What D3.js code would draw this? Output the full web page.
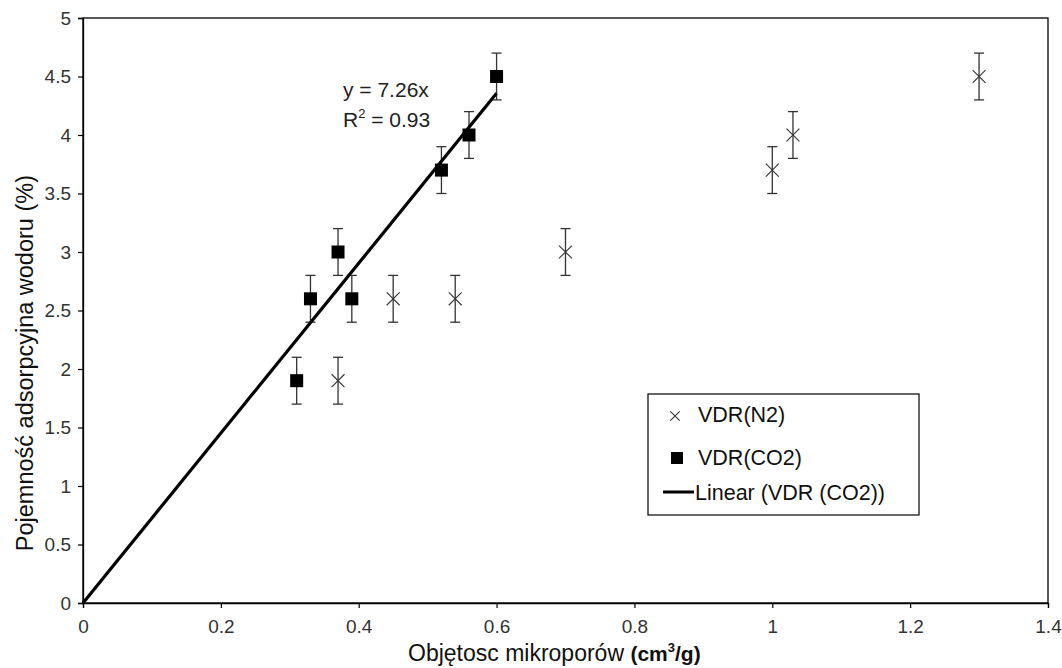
<!DOCTYPE html>
<html>
<head>
<meta charset="utf-8">
<script src="https://cdn.jsdelivr.net/npm/d3@7"></script>
<style>
  html, body { margin: 0; padding: 0; background: #fff; }
  svg { display: block; font-family: "Liberation Sans", Arial, sans-serif; }
</style>
</head>
<body>
<svg id="chart" width="1062" height="668"></svg>
<script>
// Micropore volume (cm3/g) vs hydrogen adsorption capacity (%)
const n2X = [0.37, 0.45, 0.54, 0.70, 1.00, 1.03, 1.30];
const n2Y = [1.9, 2.6, 2.6, 3.0, 3.7, 4.0, 4.5];
const co2X = [0.31, 0.33, 0.37, 0.39, 0.52, 0.56, 0.60];
const co2Y = [1.9, 2.6, 3.0, 2.6, 3.7, 4.0, 4.5];
const errorBar = 0.2;
const slope = 7.26;
const trendRange = [0, 0.60];
const xTicks = [0, 0.2, 0.4, 0.6, 0.8, 1, 1.2, 1.4];
const yTicks = [0, 0.5, 1, 1.5, 2, 2.5, 3, 3.5, 4, 4.5, 5];

const svg = d3.select("#chart");
const m = { left: 83, right: 1048, top: 18, bottom: 603 };
const x = d3.scaleLinear().domain([0, 1.4]).range([m.left, m.right]);
const y = d3.scaleLinear().domain([0, 5]).range([m.bottom, m.top]);

// plot frame
svg.append("rect")
  .attr("x", m.left).attr("y", m.top)
  .attr("width", m.right - m.left).attr("height", m.bottom - m.top)
  .attr("fill", "none").attr("stroke", "#000").attr("stroke-width", 1.3);

// axes
const xAxis = svg.append("g").attr("transform", `translate(0,${m.bottom})`)
  .call(d3.axisBottom(x).tickValues(xTicks).tickSize(5).tickPadding(12).tickFormat(d => d3.format("")(d)));
const yAxis = svg.append("g").attr("transform", `translate(${m.left},0)`)
  .call(d3.axisLeft(y).tickValues(yTicks).tickSize(5).tickPadding(7).tickFormat(d => d3.format("")(d)));
[xAxis, yAxis].forEach(g => {
  g.select(".domain").attr("stroke", "#000").attr("stroke-width", 1.3);
  g.selectAll(".tick line").attr("stroke", "#000").attr("stroke-width", 1.2);
  g.selectAll(".tick text").attr("fill", "#333").style("font-size", "19px")
    .style("font-family", "'Liberation Sans', Arial, sans-serif");
});

// error bars
function errorBars(xs, ys) {
  const g = svg.append("g").attr("stroke", "#333").attr("stroke-width", 1.3);
  xs.forEach((xv, i) => {
    const cx = x(xv), lo = y(ys[i] - errorBar), hi = y(ys[i] + errorBar);
    g.append("line").attr("x1", cx).attr("x2", cx).attr("y1", lo).attr("y2", hi);
    g.append("line").attr("x1", cx - 5).attr("x2", cx + 5).attr("y1", lo).attr("y2", lo);
    g.append("line").attr("x1", cx - 5).attr("x2", cx + 5).attr("y1", hi).attr("y2", hi);
  });
}
errorBars(n2X, n2Y);
errorBars(co2X, co2Y);

// linear trendline of the CO2 series
const line = d3.line().x(d => x(d)).y(d => y(slope * d));
svg.append("path").datum(trendRange).attr("d", line)
  .attr("fill", "none").attr("stroke", "#000").attr("stroke-width", 3.2);

// N2 markers (crosses)
const cross = d3.symbol().type(d3.symbolX).size(110);
svg.append("g").selectAll("path").data(n2X).join("path")
  .attr("d", cross)
  .attr("transform", (d, i) => `translate(${x(d)},${y(n2Y[i])})`)
  .attr("fill", "none").attr("stroke", "#333").attr("stroke-width", 1.1);

// CO2 markers (squares)
const sq = 13;
svg.append("g").selectAll("rect").data(co2X).join("rect")
  .attr("x", d => x(d) - sq / 2)
  .attr("y", (d, i) => y(co2Y[i]) - sq / 2)
  .attr("width", sq).attr("height", sq).attr("fill", "#000");

// regression equation
const eq = svg.append("g").style("font-size", "21px").attr("fill", "#222");
eq.append("text").attr("x", 343).attr("y", 97).text(`y = ${slope}x`);
const r2 = eq.append("text").attr("x", 343).attr("y", 127);
r2.append("tspan").text("R");
r2.append("tspan").attr("dy", -9).style("font-size", "13px").text("2");
r2.append("tspan").attr("dy", 9).text(" = 0.93");

// legend
const lg = svg.append("g");
lg.append("rect").attr("x", 648).attr("y", 394).attr("width", 271).attr("height", 121)
  .attr("fill", "#fff").attr("stroke", "#000").attr("stroke-width", 1.2);
const lgFont = "21.5px";
lg.append("path").attr("d", d3.symbol().type(d3.symbolX).size(60)())
  .attr("transform", "translate(675,416)").attr("fill", "none").attr("stroke", "#333").attr("stroke-width", 1.1);
lg.append("text").attr("x", 698).attr("y", 422).style("font-size", lgFont).attr("fill", "#111").text("VDR(N2)");
lg.append("rect").attr("x", 671).attr("y", 452).attr("width", 12).attr("height", 12).attr("fill", "#000");
lg.append("text").attr("x", 698).attr("y", 465).style("font-size", lgFont).attr("fill", "#111").text("VDR(CO2)");
lg.append("line").attr("x1", 663).attr("x2", 694).attr("y1", 492).attr("y2", 492)
  .attr("stroke", "#000").attr("stroke-width", 3);
lg.append("text").attr("x", 695).attr("y", 500).style("font-size", lgFont).attr("fill", "#111").text("Linear (VDR (CO2))");

// axis titles
const xt = svg.append("text").attr("x", 408).attr("y", 661)
  .style("font-size", "23px").attr("fill", "#111");
xt.append("tspan").text("Objętosc mikroporów ");
xt.append("tspan").style("font-size", "21px").style("font-weight", "bold").text("(cm");
xt.append("tspan").attr("dy", -9).style("font-size", "13px").style("font-weight", "bold").text("3");
xt.append("tspan").attr("dy", 9).style("font-size", "21px").style("font-weight", "bold").text("/g)");

svg.append("text").attr("transform", "translate(33,175) rotate(-90)").attr("text-anchor", "end")
  .style("font-size", "23.5px").attr("fill", "#111").text("Pojemność adsorpcyjna wodoru (%)");
</script>
</body>
</html>
